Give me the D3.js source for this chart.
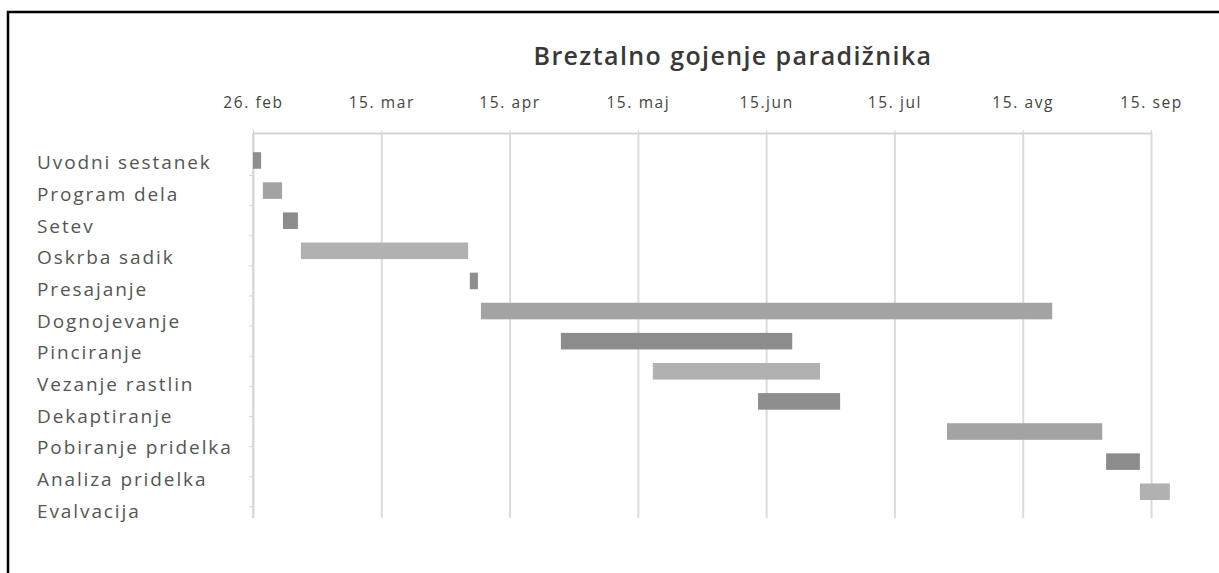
<!DOCTYPE html>
<html lang="sl">
<head>
<meta charset="UTF-8">
<title>Breztalno gojenje paradižnika</title>
<script src="https://cdn.jsdelivr.net/npm/d3@7"></script>
<style>
  body { margin:0; background:#fff; }
  svg { display:block; }
  .tasklabel { font: 19px "Open Sans", sans-serif; fill:#555; letter-spacing:1.9px; }
  .tick text { font: 15.5px "Open Sans", sans-serif; fill:#444; letter-spacing:1.6px; }
</style>
</head>
<body>
<svg id="chart" width="1219" height="573"></svg>
<script>
// opravila, začetek in trajanje v dnevih od 26. februarja
const tasks = ["Uvodni  sestanek", "Program dela", "Setev", "Oskrba sadik", "Presajanje",
  "Dognojevanje", "Pinciranje", "Vezanje rastlin", "Dekaptiranje", "Pobiranje pridelka",
  "Analiza pridelka", "Evalvacija"];
const startDay = [0, 2.3, 7, 11.2, 50.7, 53.3, 72, 93.5, 118.1, 162.3, 199.5, 207.4];
const duration = [1.9, 4.5, 3.5, 39.1, 1.9, 133.6, 54.1, 39.1, 19.2, 36.3, 7.9, 7];
const tickDays = [0, 30, 60, 90, 120, 150, 180, 210];
const tickLabels = ["26. feb", "15. mar", "15. apr", "15. maj", "15.jun", "15. jul", "15. avg", "15. sep"];

const svg = d3.select("#chart");
const yTop = 133, yBottom = 518;

const x = d3.scaleLinear().domain([0, 210]).range([253, 1151]);
const yBar = d3.scaleBand().domain(tasks).range([145.4, 506.8]).paddingInner(0.45).paddingOuter(0.225);
const yLabel = d3.scaleBand().domain(tasks).range([147.2, 527.5]);
const color = d3.scaleOrdinal().domain(tasks).range(["#8e8e8e", "#a3a3a3", "#8c8c8c", "#b1b1b1"]);

// okvir
svg.append("path")
  .attr("d", "M8,573V12H1219")
  .attr("fill", "none").attr("stroke", "#000").attr("stroke-width", 2.5);

// naslov
svg.append("text")
  .attr("x", 733).attr("y", 65)
  .attr("text-anchor", "middle")
  .style("font", "600 25px 'Open Sans', sans-serif")
  .style("letter-spacing", "1.4px")
  .style("fill", "#383838")
  .text("Breztalno gojenje paradižnika");

// mreža
svg.append("g")
  .attr("transform", `translate(0,${yTop})`)
  .call(d3.axisBottom(x).tickValues(tickDays).tickSize(yBottom - yTop).tickFormat(""))
  .call(g => g.select(".domain").remove())
  .call(g => g.selectAll("line").attr("stroke", "#dcdcdc").attr("stroke-width", 2));

// os x zgoraj
svg.append("g")
  .attr("transform", `translate(0,${yTop})`)
  .call(d3.axisTop(x).tickValues(tickDays).tickSize(3).tickSizeOuter(0).tickPadding(22)
    .tickFormat((d, i) => tickLabels[i]))
  .call(g => g.select(".domain").attr("stroke", "#d4d4d4").attr("stroke-width", 2))
  .call(g => g.selectAll("line").attr("stroke", "#d4d4d4"));

// os y
svg.append("line")
  .attr("x1", 253).attr("x2", 253).attr("y1", yTop).attr("y2", yBottom)
  .attr("stroke", "#d4d4d4").attr("stroke-width", 1.5);
svg.append("g").selectAll("line")
  .data(tasks)
  .join("line")
  .attr("x1", 249).attr("x2", 253)
  .attr("y1", d => yBar(d) + yBar.bandwidth() + yBar.step() * yBar.paddingInner() / 2)
  .attr("y2", d => yBar(d) + yBar.bandwidth() + yBar.step() * yBar.paddingInner() / 2)
  .attr("stroke", "#d4d4d4");

// oznake opravil
svg.append("g").selectAll("text")
  .data(tasks)
  .join("text")
  .attr("class", "tasklabel")
  .attr("x", 37)
  .attr("y", d => yLabel(d) + yLabel.bandwidth() / 2)
  .attr("dy", "0.32em")
  .text(d => d);

// stolpci
svg.append("g").selectAll("rect")
  .data(tasks)
  .join("rect")
  .attr("x", (d, i) => x(startDay[i]))
  .attr("width", (d, i) => x(startDay[i] + duration[i]) - x(startDay[i]))
  .attr("y", d => yBar(d))
  .attr("height", yBar.bandwidth())
  .attr("fill", d => color(d));
</script>
</body>
</html>
